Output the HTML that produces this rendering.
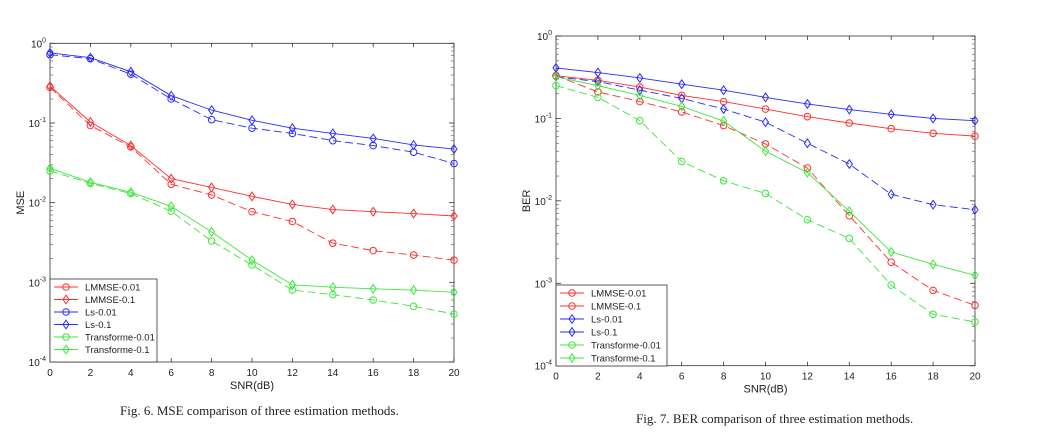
<!DOCTYPE html>
<html><head><meta charset="utf-8"><style>
body{margin:0;background:#fff;width:1043px;height:447px;overflow:hidden;font-family:"Liberation Sans",sans-serif}
svg{position:absolute;left:0;top:0}
.cap{position:absolute;font-family:"Liberation Serif",serif;font-size:13px;color:#222}
</style></head><body>
<svg id="s" width="1043" height="447"></svg>
<div class="cap" style="left:120px;top:403px">Fig. 6. MSE comparison of three estimation methods.</div>
<div class="cap" style="left:636px;top:411px">Fig. 7. BER comparison of three estimation methods.</div>
<script>
const snr=[0,2,4,6,8,10,12,14,16,18,20];
const xTicks=[0,2,4,6,8,10,12,14,16,18,20];
const mseNames=["LMMSE-0.01","LMMSE-0.1","Ls-0.01","Ls-0.1","Transforme-0.01","Transforme-0.1"];
const mseLmmse001=[0.28,0.093,0.05,0.017,0.0125,0.0077,0.0058,0.0031,0.0025,0.0022,0.0019];
const mseLmmse01=[0.29,0.103,0.052,0.02,0.0155,0.012,0.0095,0.0082,0.0077,0.0073,0.0068];
const mseLs001=[0.72,0.64,0.41,0.2,0.11,0.086,0.074,0.06,0.052,0.043,0.031];
const mseLs01=[0.76,0.66,0.44,0.22,0.145,0.108,0.086,0.074,0.064,0.053,0.047];
const mseTr001=[0.025,0.0175,0.013,0.0078,0.0033,0.00165,0.0008,0.0007,0.0006,0.0005,0.0004];
const mseTr01=[0.027,0.018,0.0135,0.009,0.0043,0.0019,0.00093,0.00087,0.00083,0.0008,0.00075];
const berLmmse001=[0.33,0.21,0.16,0.12,0.082,0.049,0.025,0.0066,0.0018,0.00082,0.00054];
const berLmmse01=[0.33,0.29,0.24,0.19,0.16,0.13,0.105,0.088,0.075,0.066,0.061];
const berLs001=[0.32,0.28,0.22,0.175,0.13,0.09,0.05,0.028,0.012,0.009,0.0078];
const berLs01=[0.41,0.36,0.31,0.26,0.22,0.18,0.15,0.128,0.112,0.1,0.094];
const berTr001=[0.25,0.18,0.094,0.03,0.0175,0.0123,0.0059,0.0035,0.00095,0.00042,0.00034];
const berTr01=[0.32,0.25,0.19,0.14,0.093,0.04,0.022,0.0075,0.0024,0.0017,0.00125];
const R="#ff3030",B="#2a2aff",G="#3ee83e";
const NS="http://www.w3.org/2000/svg",svg=document.getElementById("s");
function el(t,a,p){const e=document.createElementNS(NS,t);for(const k in a)e.setAttribute(k,a[k]);(p||svg).appendChild(e);return e;}
function chart(cfg){
 const g=el("g",{});
 
 
 const {x0,x1,yTop,yBot}=cfg;
 const X=v=>x0+(v-0)/20*(x1-x0);
 const Y=v=>yTop+(0-Math.log10(v))/4*(yBot-yTop);
 el("rect",{x:x0,y:yTop,width:x1-x0,height:yBot-yTop,fill:"none",stroke:"#333","stroke-width":0.8},g);
 xTicks.forEach(t=>{const x=X(t);
  el("line",{x1:x,x2:x,y1:yBot,y2:yBot-4,stroke:"#333","stroke-width":0.8},g);
  el("line",{x1:x,x2:x,y1:yTop,y2:yTop+4,stroke:"#333","stroke-width":0.8},g);
  const tx=el("text",{x:x,y:yBot+14,"font-size":10,"text-anchor":"middle",fill:"#222"},g);tx.textContent=t;
  });
 for(let d=0;d>=-4;d--){const y=Y(Math.pow(10,d));
  el("line",{x1:x0,x2:x0+5,y1:y,y2:y,stroke:"#333","stroke-width":0.8},g);
  el("line",{x1:x1,x2:x1-5,y1:y,y2:y,stroke:"#333","stroke-width":0.8},g);
  const tx=el("text",{x:x0-4,y:y+4,"font-size":10,"text-anchor":"end",fill:"#222"},g);
  
  tx.innerHTML="10<tspan dy='-5' font-size='7'>"+d+"</tspan>";
  if(d>-4)for(let m=2;m<10;m++){const ym=Y(m*Math.pow(10,d-1));
   el("line",{x1:x0,x2:x0+3,y1:ym,y2:ym,stroke:"#555","stroke-width":0.6},g);
   el("line",{x1:x1,x2:x1-3,y1:ym,y2:ym,stroke:"#555","stroke-width":0.6},g);}}
 const xl=el("text",{x:(x0+x1)/2,y:yBot+27,"font-size":11,"text-anchor":"middle",fill:"#222"},g);xl.textContent="SNR(dB)";
 
 const yl=el("text",{x:0,y:0,"font-size":11,"text-anchor":"middle",fill:"#222",transform:`translate(${x0-26},${(yTop+yBot)/2}) rotate(-90)`},g);yl.textContent=cfg.ylabel;
 
 cfg.series.forEach(s=>{
  const sg=el("g",{},g);
  
  
  const pts=s.d.map((v,i)=>X(snr[i])+","+Y(v)).join(" ");
  el("polyline",{points:pts,fill:"none",stroke:s.c,"stroke-width":0.9,"stroke-dasharray":s.dash?"8,4":"none"},sg);
  s.d.forEach((v,i)=>marker(sg,X(snr[i]),Y(v),s.m,s.c));
 });
 const lg=el("g",{},g);
 
 const L=cfg.legend;
 el("rect",{x:L.x,y:L.y,width:L.w,height:L.h,fill:"#fff",stroke:"#333","stroke-width":0.8},lg);
 cfg.series.forEach((s,i)=>{const y=L.y+8+i*L.step;
  const e=el("g",{},lg);
  
  el("line",{x1:L.x+4,x2:L.x+28,y1:y,y2:y,stroke:s.c,"stroke-width":0.9},e);
  marker(e,L.x+16,y,s.m,s.c);
  const t=el("text",{x:L.x+35,y:y+3.5,"font-size":9.5,fill:"#222"},e);t.textContent=s.n;});
}
function marker(p,x,y,m,c){
 if(m=="o")el("circle",{cx:x,cy:y,r:3.3,fill:"none",stroke:c,"stroke-width":1},p);
 else el("polygon",{points:`${x},${y-4.3} ${x+3},${y} ${x},${y+4.3} ${x-3},${y}`,fill:"none",stroke:c,"stroke-width":1},p);
}
chart({name:"mse-chart",x0:50,x1:454,yTop:43.3,yBot:362,ylabel:"MSE",
 legend:{x:50,y:279,w:107,h:83,step:12.5},
 series:[{n:"LMMSE-0.01",d:mseLmmse001,c:R,m:"o",dash:1},{n:"LMMSE-0.1",d:mseLmmse01,c:R,m:"d"},
  {n:"Ls-0.01",d:mseLs001,c:B,m:"o",dash:1},{n:"Ls-0.1",d:mseLs01,c:B,m:"d"},
  {n:"Transforme-0.01",d:mseTr001,c:G,m:"o",dash:1},{n:"Transforme-0.1",d:mseTr01,c:G,m:"d"}]});
chart({name:"ber-chart",x0:556,x1:975,yTop:36,yBot:365.7,ylabel:"BER",
 legend:{x:556,y:285,w:111,h:81,step:13},
 series:[{n:"LMMSE-0.01",d:berLmmse001,c:R,m:"o",dash:1},{n:"LMMSE-0.1",d:berLmmse01,c:R,m:"o"},
  {n:"Ls-0.01",d:berLs001,c:B,m:"d",dash:1},{n:"Ls-0.1",d:berLs01,c:B,m:"d"},
  {n:"Transforme-0.01",d:berTr001,c:G,m:"o",dash:1},{n:"Transforme-0.1",d:berTr01,c:G,m:"d"}]});
</script>
</body></html>
